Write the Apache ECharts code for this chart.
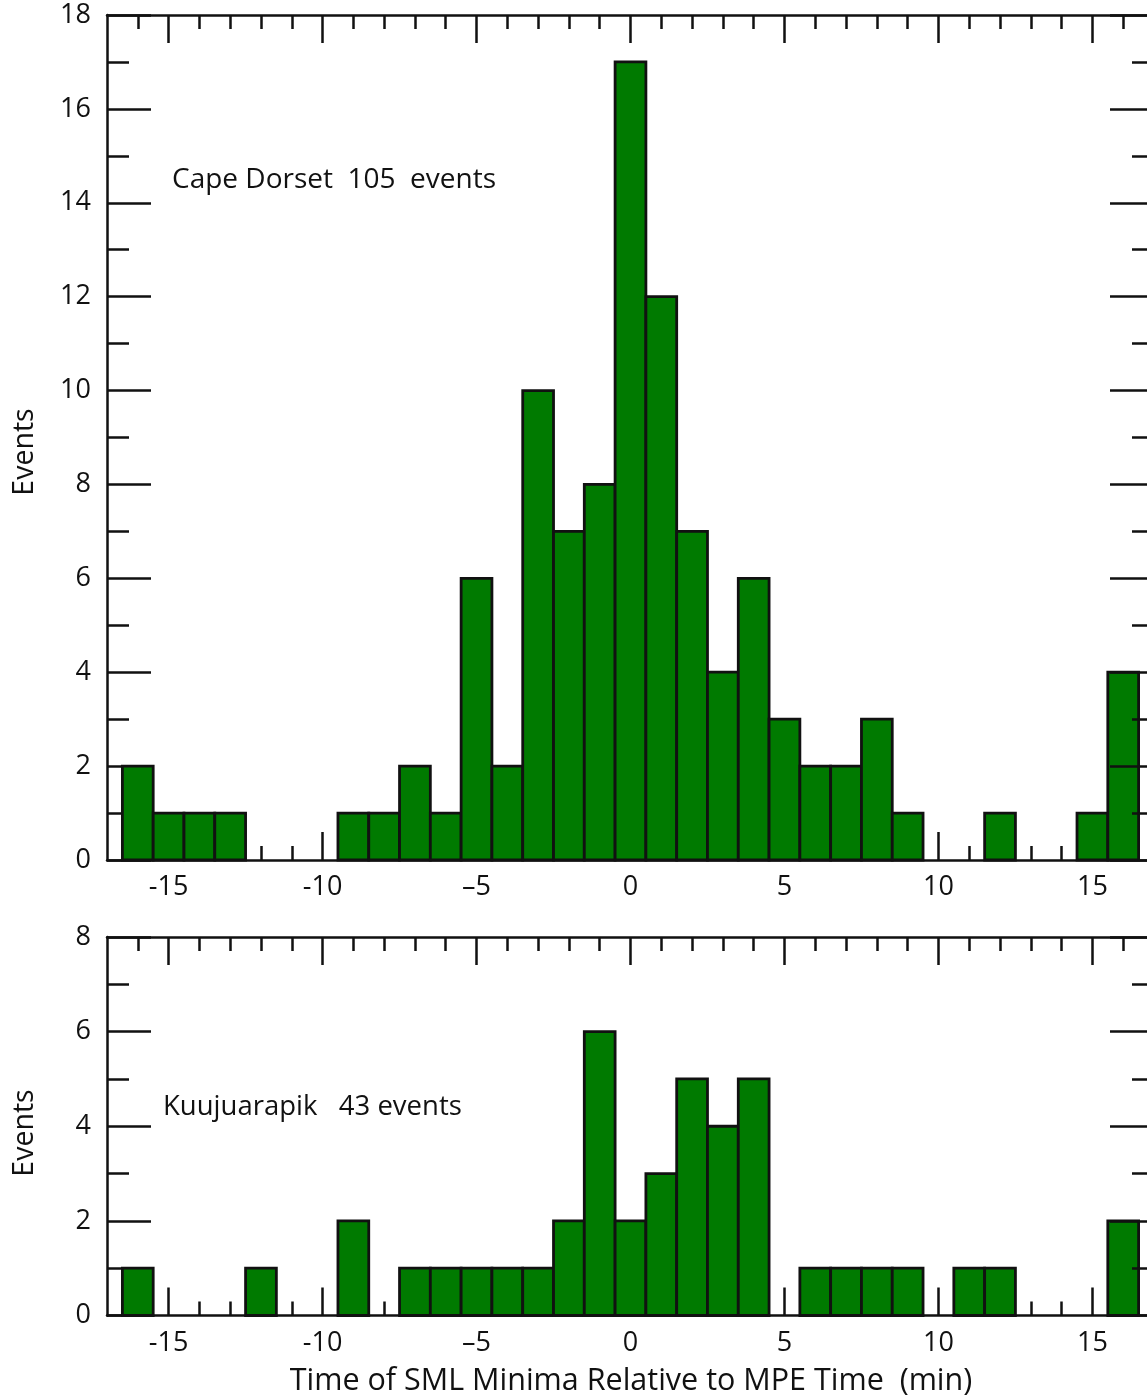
<!DOCTYPE html>
<html>
<head>
<meta charset="utf-8">
<script src="https://cdn.jsdelivr.net/npm/echarts@6/dist/echarts.min.js"></script>
<style>
  html, body { margin: 0; padding: 0; background: #ffffff; overflow: hidden; }
  #chart { width: 1160px; height: 1397px; }
</style>
</head>
<body>
<div id="chart"></div>
<script>
// Bin centres (minutes), one-minute bins
const bins = [-16, -15, -14, -13, -12, -11, -10, -9, -8, -7, -6, -5, -4, -3, -2, -1, 0,
              1, 2, 3, 4, 5, 6, 7, 8, 9, 10, 11, 12, 13, 14, 15, 16];
// Event counts per bin
const capeDorset  = [2, 1, 1, 1, 0, 0, 0, 1, 1, 2, 1, 6, 2, 10, 7, 8, 17,
                     12, 7, 4, 6, 3, 2, 2, 3, 1, 0, 0, 1, 0, 0, 1, 4];
const kuujuarapik = [1, 0, 0, 0, 1, 0, 0, 2, 0, 1, 1, 1, 1, 1, 2, 6, 2,
                     3, 5, 4, 5, 0, 1, 1, 1, 1, 0, 1, 1, 0, 0, 0, 2];
// Axis ticks and labels
const xMajorTicks = [-15, -10, -5, 0, 5, 10, 15];
const xMajorLabels = ['-15', '-10', '\u20135', '0', '5', '10', '15'];
const xMinorTicks = [-16, -14, -13, -12, -11, -9, -8, -7, -6, -4, -3, -2, -1,
                     1, 2, 3, 4, 6, 7, 8, 9, 11, 12, 13, 14, 16];
const stationLabels = ['Cape Dorset  105  events', 'Kuujuarapik   43 events'];
const yTitle = 'Events';
const xTitle = 'Time of SML Minima Relative to MPE Time  (min)';

const FONT = 'Open Sans';
const BAR_FILL = '#007a00';
const INK = '#111111';

const chart = echarts.init(document.getElementById('chart'), null, { renderer: 'canvas' });

// The plot frame runs slightly past the right edge of the page
const grids = [
  { left: 107, top: 15, width: 1047, height: 845 },
  { left: 107, top: 937, width: 1047, height: 378.5 }
];

function xAxesFor(gi) {
  const base = {
    type: 'value', gridIndex: gi, min: -17, max: 17, interval: 1,
    splitLine: { show: false }, z: 0
  };
  const line = { show: true, onZero: false, lineStyle: { color: INK, width: 2.5 } };
  return [
    // bottom axis: major ticks + labels
    Object.assign({}, base, {
      position: 'bottom',
      axisLine: line,
      axisTick: { show: true, inside: true, length: 28, customValues: xMajorTicks,
                  lineStyle: { color: INK, width: 2.5 } },
      axisLabel: {
        show: true, customValues: xMajorTicks, margin: 14,
        fontFamily: FONT, fontSize: 27, color: INK,
        formatter: v => xMajorLabels[xMajorTicks.indexOf(v)] || ''
      }
    }),
    // bottom axis: minor ticks
    Object.assign({}, base, {
      position: 'bottom',
      axisLine: { show: false, onZero: false },
      axisTick: { show: true, inside: true, length: 14, customValues: xMinorTicks,
                  lineStyle: { color: INK, width: 2.5 } },
      axisLabel: { show: false }
    }),
    // top axis: major ticks
    Object.assign({}, base, {
      position: 'top',
      axisLine: line,
      axisTick: { show: true, inside: true, length: 28, customValues: xMajorTicks,
                  lineStyle: { color: INK, width: 2.5 } },
      axisLabel: { show: false }
    }),
    // top axis: minor ticks
    Object.assign({}, base, {
      position: 'top',
      axisLine: { show: false, onZero: false },
      axisTick: { show: true, inside: true, length: 14, customValues: xMinorTicks,
                  lineStyle: { color: INK, width: 2.5 } },
      axisLabel: { show: false }
    })
  ];
}

function yAxesFor(gi, maxVal) {
  const base = {
    type: 'value', gridIndex: gi, min: 0, max: maxVal, interval: 2,
    splitLine: { show: false },
    axisLine: { show: true, onZero: false, lineStyle: { color: INK, width: 2.5 } },
    axisTick: { show: true, inside: true, length: 44, lineStyle: { color: INK, width: 2.5 } },
    minorTick: { show: true, splitNumber: 2, length: 22, lineStyle: { color: INK, width: 2.5 } }
  };
  return [
    Object.assign({}, base, {
      position: 'left', z: 0,
      axisLabel: { show: true, margin: 16, padding: [9, 0, 0, 0],
                   fontFamily: FONT, fontSize: 27, color: INK }
    }),
    Object.assign({}, base, {
      position: 'right', z: 5,
      axisLabel: { show: false }
    })
  ];
}

// Histogram bars: each bin spans [centre - 0.5, centre + 0.5]
function histSeries(gi, counts) {
  return {
    type: 'custom',
    xAxisIndex: gi * 4,
    yAxisIndex: gi * 2,
    z: 2,
    data: bins.map((b, i) => [b, counts[i]]).filter(d => d[1] > 0),
    renderItem: function (params, api) {
      const x = api.value(0), y = api.value(1);
      const p0 = api.coord([x - 0.5, y]);
      const p1 = api.coord([x + 0.5, 0]);
      return {
        type: 'rect',
        shape: { x: p0[0], y: p0[1], width: p1[0] - p0[0], height: p1[1] - p0[1] },
        style: { fill: BAR_FILL, stroke: INK, lineWidth: 2.8 }
      };
    }
  };
}

const option = {
  backgroundColor: '#ffffff',
  animation: false,
  grid: grids,
  xAxis: [].concat(xAxesFor(0), xAxesFor(1)),
  yAxis: [].concat(yAxesFor(0, 18), yAxesFor(1, 8)),
  series: [histSeries(0, capeDorset), histSeries(1, kuujuarapik)],
  graphic: [
    { type: 'text', x: 172, y: 180,
      style: { text: stationLabels[0], fontFamily: FONT, fontSize: 28, fill: INK,
               align: 'left', verticalAlign: 'middle' } },
    { type: 'text', x: 163, y: 1107,
      style: { text: stationLabels[1], fontFamily: FONT, fontSize: 27.5, fill: INK,
               align: 'left', verticalAlign: 'middle' } },
    { type: 'text', x: 25, y: 452, rotation: Math.PI / 2,
      style: { text: yTitle, fontFamily: FONT, fontSize: 28.5, fill: INK,
               align: 'center', verticalAlign: 'middle' } },
    { type: 'text', x: 25, y: 1133, rotation: Math.PI / 2,
      style: { text: yTitle, fontFamily: FONT, fontSize: 28.5, fill: INK,
               align: 'center', verticalAlign: 'middle' } },
    { type: 'text', x: 631, y: 1381,
      style: { text: xTitle, fontFamily: FONT, fontSize: 30.5, fill: INK,
               align: 'center', verticalAlign: 'middle' } }
  ]
};

chart.setOption(option);
</script>
</body>
</html>
